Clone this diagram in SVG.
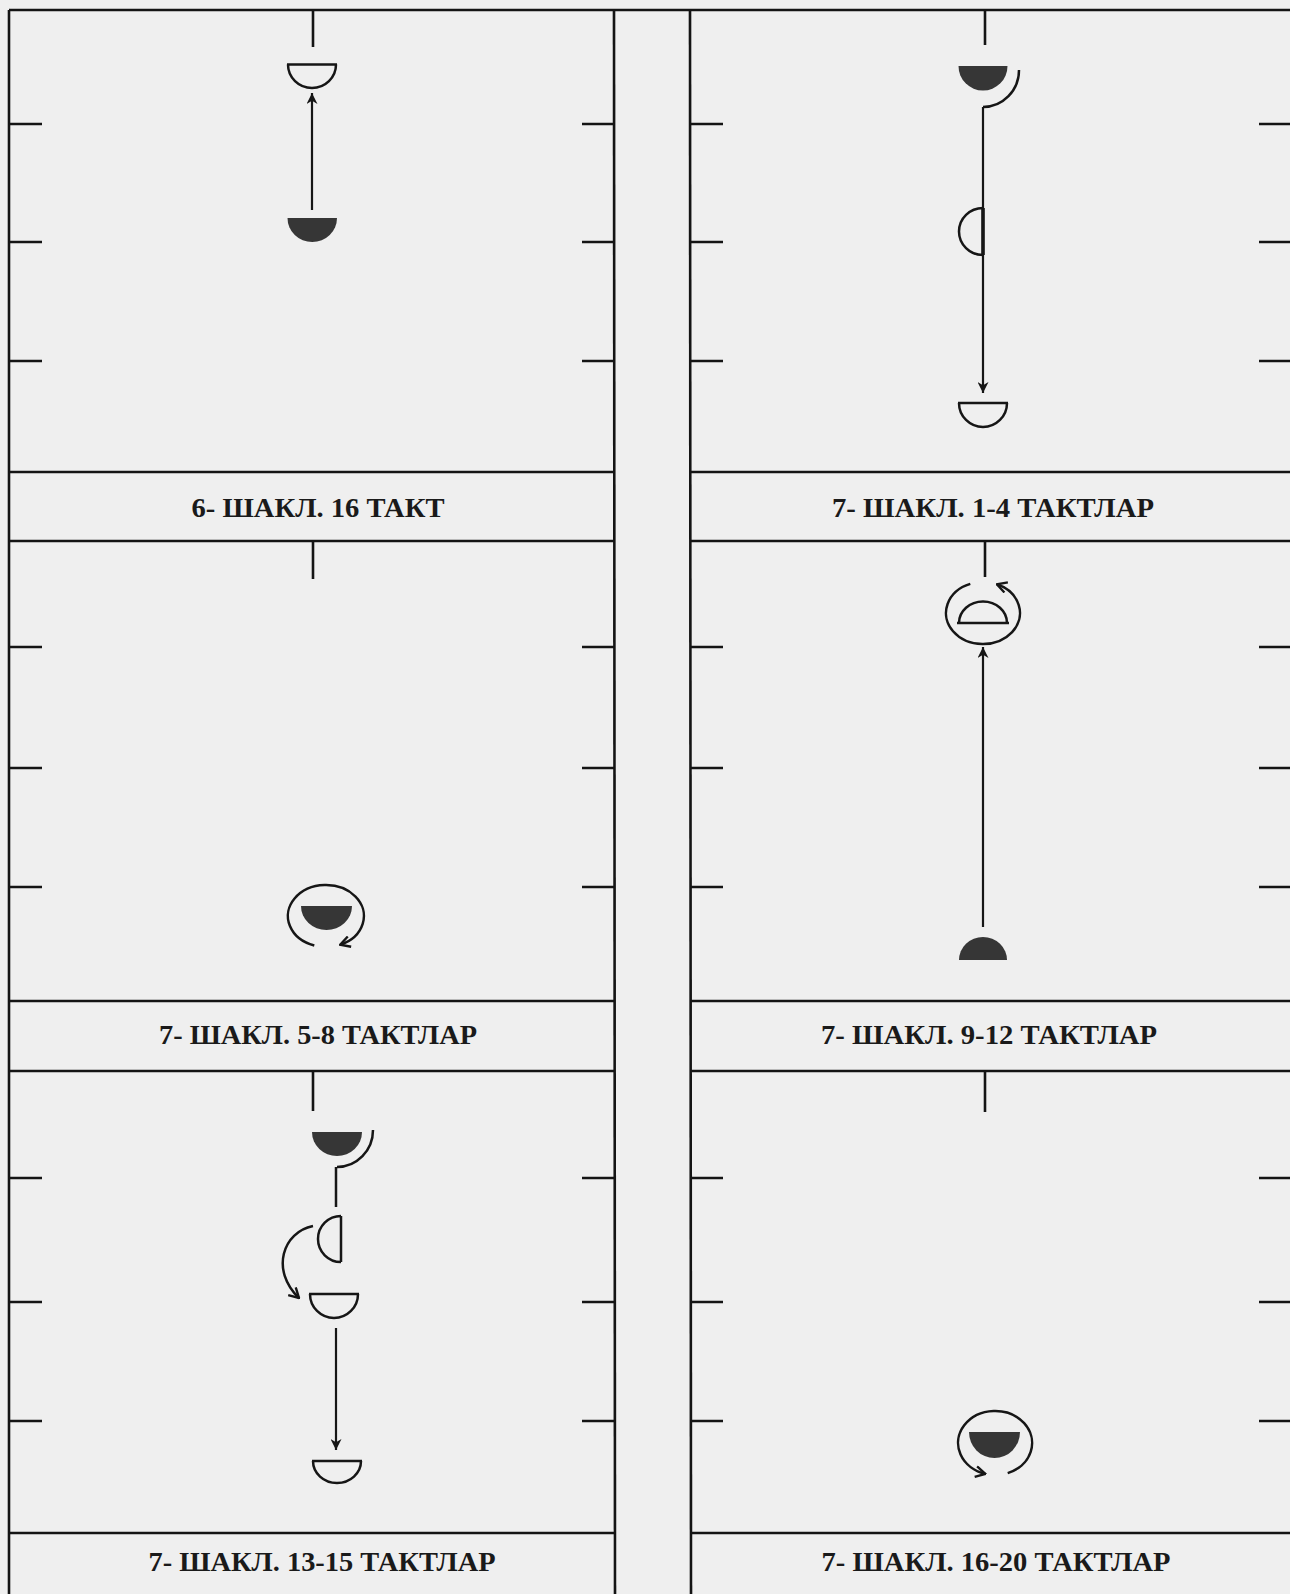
<svg xmlns="http://www.w3.org/2000/svg" width="1290" height="1594" viewBox="0 0 1290 1594">
<style>
.frame{stroke:#141414;stroke-width:2.6;fill:none}
.tick{stroke:#141414;stroke-width:2.6;fill:none}
.ln{stroke:#161616;stroke-width:2.5;fill:none}
.thin{stroke:#161616;stroke-width:2.2;fill:none}
.solid{fill:#363636;stroke:none}
.cap{font-family:"Liberation Serif","Times New Roman",serif;font-weight:bold;font-size:27px;fill:#1a1a1a}
</style>
<defs>
<marker id="tri" viewBox="0 0 10 10" refX="10" refY="5" markerWidth="11" markerHeight="11" markerUnits="userSpaceOnUse" orient="auto"><path d="M0,0 L10,5 L0,10 L3,5 z" fill="#161616"/></marker>
<marker id="vee" viewBox="0 0 12 12" refX="11" refY="6" markerWidth="13" markerHeight="13" markerUnits="userSpaceOnUse" orient="auto"><path d="M2,1 L11,6 L2,11" fill="none" stroke="#161616" stroke-width="2.2"/></marker>
</defs>
<rect x="0" y="0" width="1290" height="1594" fill="#efefef"/>
<g id="frames">
<line class="frame" x1="9" y1="10" x2="1290" y2="10"/>
<line class="frame" x1="9" y1="10" x2="9" y2="1594"/>
<line class="frame" x1="614" y1="10" x2="615" y2="1594"/>
<line class="frame" x1="690" y1="10" x2="691" y2="1594"/>
<line class="frame" x1="9" y1="472" x2="614" y2="472"/>
<line class="frame" x1="9" y1="541" x2="614" y2="541"/>
<line class="frame" x1="9" y1="1001" x2="614" y2="1001"/>
<line class="frame" x1="9" y1="1071" x2="614" y2="1071"/>
<line class="frame" x1="9" y1="1533" x2="615" y2="1533"/>
<line class="frame" x1="690" y1="472" x2="1290" y2="472"/>
<line class="frame" x1="690" y1="541" x2="1290" y2="541"/>
<line class="frame" x1="690" y1="1001" x2="1290" y2="1001"/>
<line class="frame" x1="690" y1="1071" x2="1290" y2="1071"/>
<line class="frame" x1="691" y1="1533" x2="1290" y2="1533"/>
</g>
<g id="ticks">
<path class="tick" d="M9 124H42M9 242H42M9 361H42M582 124H614M582 242H614M582 361H614"/>
<path class="tick" d="M9 647H42M9 768H42M9 887H42M582 647H614M582 768H614M582 887H614"/>
<path class="tick" d="M9 1178H42M9 1302H42M9 1421H42M582 1178H614M582 1302H614M582 1421H614"/>
<path class="tick" d="M690 124H723M690 242H723M690 361H723M1259 124H1290M1259 242H1290M1259 361H1290"/>
<path class="tick" d="M690 647H723M690 768H723M690 887H723M1259 647H1290M1259 768H1290M1259 887H1290"/>
<path class="tick" d="M690 1178H723M690 1302H723M690 1421H723M1259 1178H1290M1259 1302H1290M1259 1421H1290"/>
<path class="tick" d="M313 10V47M985 10V45M313 541V579M985 541V577M313 1071V1111M985 1071V1112"/>
</g>
<g id="panel1">
<g id="p1-open-bowl"><path class="ln" d="M287 64.5H337M288 64.5A24 23.5 0 0 0 336 64.5"/></g>
<g id="p1-solid-bowl"><path class="solid" d="M287.5 218H337A24.75 24 0 0 1 287.5 218Z"/></g>
</g>
<g id="panel2">
<g id="p2-solid-bowl"><path class="solid" d="M958.5 66H1007.5A24.5 24.5 0 0 1 958.5 66Z"/><path class="ln" d="M1019 70A36 37 0 0 1 983 107"/></g>
<g id="p2-left-half"><path class="ln" d="M983 208A24 23.5 0 0 0 983 255"/><path stroke="#161616" stroke-width="3.6" d="M983 208V255"/></g>
<g id="p2-open-bowl"><path class="ln" d="M958 403H1008M959 403A24 24 0 0 0 1007 403"/></g>
</g>
<g id="panel3">
<g id="p3-turn"><path class="solid" d="M301 906H352A25.5 24 0 0 1 301 906Z"/><path class="ln" d="M314.3 945.5A38 31 0 1 1 340.2 944.7" marker-end="url(#vee)"/></g>
</g>
<g id="panel4">
<g id="p4-turn"><path class="ln" d="M959 623A24 21.5 0 0 1 1007 623M957 623H1009"/><path class="ln" d="M970.3 583.9A37 31 0 1 0 996.9 584.3" marker-end="url(#vee)"/></g>
<g id="p4-solid-dome"><path class="solid" d="M959 960A24 23 0 0 1 1007 960Z"/></g>
</g>
<g id="panel5">
<g id="p5-solid-bowl"><path class="solid" d="M312 1132H362A25 24 0 0 1 312 1132Z"/><path class="ln" d="M373 1130A36 37 0 0 1 337 1167"/></g>
<g id="p5-left-half"><path class="ln" d="M341 1216A23 23 0 0 0 341 1262M341 1216V1262"/></g>
<g id="p5-open-bowl1"><path class="ln" d="M309 1294H359M310 1294A24 24 0 0 0 358 1294"/></g>
<g id="p5-open-bowl2"><path class="ln" d="M312 1461H362M313 1461A24 22 0 0 0 361 1461"/></g>
</g>
<g id="panel6">
<g id="p6-turn"><path class="solid" d="M969 1432H1020A25.5 26 0 0 1 969 1432Z"/><path class="ln" d="M1007.7 1473.1A37 32 0 1 0 985.4 1473.9" marker-end="url(#vee)"/></g>
</g>
<g id="connectors">
<path class="thin" d="M312 210V93" marker-end="url(#tri)"/>
<path class="thin" d="M983 107V393" marker-end="url(#tri)"/>
<path class="thin" d="M983 927V647" marker-end="url(#tri)"/>
<path class="ln" d="M336 1167V1207"/>
<path class="ln" d="M313 1226C283 1232 270 1270 299 1298" marker-end="url(#vee)"/>
<path class="thin" d="M336 1328V1450" marker-end="url(#tri)"/>
</g>
<g id="captions">
<text class="cap" x="318" y="517" text-anchor="middle" textLength="253" lengthAdjust="spacingAndGlyphs">6- ШАКЛ. 16 ТАКТ</text>
<text class="cap" x="993" y="517" text-anchor="middle" textLength="322" lengthAdjust="spacingAndGlyphs">7- ШАКЛ. 1-4 ТАКТЛАР</text>
<text class="cap" x="318" y="1044" text-anchor="middle" textLength="318" lengthAdjust="spacingAndGlyphs">7- ШАКЛ. 5-8 ТАКТЛАР</text>
<text class="cap" x="989" y="1044" text-anchor="middle" textLength="336" lengthAdjust="spacingAndGlyphs">7- ШАКЛ. 9-12 ТАКТЛАР</text>
<text class="cap" x="322" y="1571" text-anchor="middle" textLength="347" lengthAdjust="spacingAndGlyphs">7- ШАКЛ. 13-15 ТАКТЛАР</text>
<text class="cap" x="996" y="1571" text-anchor="middle" textLength="349" lengthAdjust="spacingAndGlyphs">7- ШАКЛ. 16-20 ТАКТЛАР</text>
</g>
</svg>
